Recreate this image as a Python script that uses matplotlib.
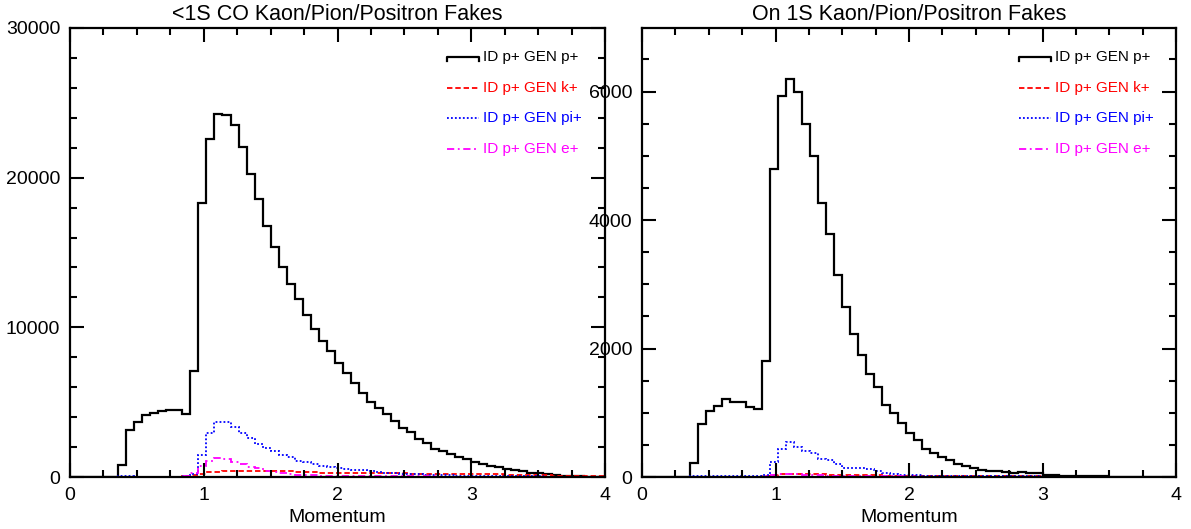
import numpy as np
import matplotlib
matplotlib.use("Agg")
import matplotlib.pyplot as plt

plt.rcParams['font.family'] = ['Liberation Sans', 'DejaVu Sans']

# ---------------- data ----------------
bin_width = 0.06
n_bins = 67
edges = np.arange(n_bins + 1) * bin_width

titles = ["<1S CO Kaon/Pion/Positron Fakes", "On 1S Kaon/Pion/Positron Fakes"]
labels = ["ID p+ GEN p+", "ID p+ GEN k+", "ID p+ GEN pi+", "ID p+ GEN e+"]
xlabel = "Momentum"

left_p = [0, 0, 0, 0, 0, 0, 820, 3140, 3670, 4120, 4300, 4430, 4450, 4500, 4190, 7080,
          18280, 22580, 24250, 24200, 23490, 22060, 20260, 18570, 16750, 15340, 14010,
          12890, 11870, 10810, 9890, 9100, 8400, 7590, 6970, 6260, 5610, 5010, 4590,
          4190, 3720, 3300, 2980, 2560, 2250, 1890, 1760, 1540, 1360, 1200, 1020, 870,
          760, 650, 550, 470, 380, 290, 250, 180, 110, 90, 70, 50, 30, 20, 10]
left_k = [0, 0, 0, 0, 0, 0, 0, 0, 0, 0, 0, 0, 0, 20, 40, 120, 200, 310, 360, 400, 420,
          420, 430, 420, 420, 400, 390, 370, 350, 330, 320, 300, 290, 280, 270, 260, 255,
          250, 245, 240, 240, 235, 230, 225, 220, 215, 210, 205, 200, 200, 200, 190, 180,
          170, 160, 150, 140, 130, 120, 110, 100, 95, 90, 85, 80, 75, 70]
left_pi = [0, 0, 0, 0, 0, 20, 60, 40, 30, 20, 20, 20, 20, 30, 60, 180, 1470, 2960, 3670,
           3650, 3360, 2920, 2580, 2180, 1920, 1760, 1470, 1320, 1090, 980, 850, 730, 680,
           620, 560, 500, 450, 400, 350, 300, 260, 220, 190, 170, 150, 130, 115, 105, 95,
           85, 75, 70, 65, 60, 55, 50, 45, 40, 36, 32, 28, 25, 22, 20, 18, 16, 15]
left_e = [15, 15, 15, 15, 15, 15, 15, 15, 15, 15, 15, 15, 15, 30, 80, 250, 750, 1050,
          1250, 1200, 1000, 900, 680, 600, 430, 350, 260, 200, 160, 130, 110, 95, 85, 80,
          75, 70, 65, 60, 55, 50, 48, 45, 42, 40, 38, 35, 33, 30, 28, 26, 25, 24, 22, 20,
          19, 18, 17, 16, 15, 14, 13, 12, 12, 11, 11, 10, 10]

right_p = [0, 0, 0, 0, 0, 0, 218, 825, 1020, 1100, 1220, 1175, 1165, 1085, 1065, 1800,
           4800, 5930, 6200, 5990, 5490, 4990, 4270, 3780, 3140, 2640, 2230, 1900, 1610,
           1400, 1120, 1000, 840, 680, 575, 435, 373, 311, 258, 207, 165, 140, 114, 98,
           87, 78, 62, 75, 70, 55, 36, 30, 20, 16, 13, 11, 10, 8, 7, 6, 5, 4, 4, 3, 3, 2, 2]
right_k = [0, 0, 0, 0, 0, 0, 2, 3, 3, 3, 3, 3, 3, 4, 5, 10, 30, 45, 50, 45, 45, 40, 40,
           35, 35, 30, 30, 28, 26, 24, 22, 20, 19, 18, 17, 16, 15, 14, 13, 12, 12, 11, 11,
           10, 10, 9, 9, 8, 8, 8, 7, 7, 7, 6, 6, 6, 5, 5, 5, 5, 4, 4, 4, 4, 3, 3, 3]
right_pi = [0, 0, 0, 0, 0, 0, 8, 10, 10, 12, 10, 10, 10, 10, 12, 30, 230, 440, 540, 470,
            400, 370, 280, 260, 200, 145, 140, 140, 130, 90, 60, 40, 35, 30, 25, 22, 20,
            18, 16, 15, 14, 13, 12, 11, 10, 10, 9, 9, 8, 8, 7, 7, 6, 6, 5, 5, 5, 4, 4, 4,
            3, 3, 3, 3, 2, 2, 2]
right_e = [0, 0, 0, 0, 0, 0, 3, 3, 3, 3, 3, 3, 3, 4, 5, 10, 35, 40, 45, 40, 35, 30, 25,
           22, 20, 18, 16, 14, 12, 11, 10, 9, 8, 8, 7, 7, 6, 6, 5, 5, 5, 4, 4, 4, 4, 3, 3,
           3, 3, 3, 2, 2, 2, 2, 2, 2, 2, 1, 1, 1, 1, 1, 1, 1, 1, 1, 1]

panels = [
    dict(series=[left_p, left_k, left_pi, left_e], ylim=30000, yticks=[0, 10000, 20000, 30000],
         yminor=2000),
    dict(series=[right_p, right_k, right_pi, right_e], ylim=6990, yticks=[0, 2000, 4000, 6000],
         yminor=500),
]

colors = ["black", "red", "blue", "magenta"]
styles = ["-", (0, (3.0, 1.6)), (0, (1.0, 1.2)), (0, (4.0, 2.0, 1.0, 2.0))]
widths = [1.6, 1.3, 1.3, 1.3]

# ---------------- figure ----------------
W, H = 1191, 529
fig = plt.figure(figsize=(W / 100, H / 100), dpi=100)
axes_px = [(70, 605), (642, 1176)]
top_px, bot_px = 28, 477

for (x0, x1), panel, title in zip(axes_px, panels, titles):
    ax = fig.add_axes([x0 / W, 1 - bot_px / H, (x1 - x0) / W, (bot_px - top_px) / H])
    for vals, c, ls, lw in zip(panel["series"], colors, styles, widths):
        ax.stairs(vals, edges, color=c, linestyle=ls, linewidth=lw, baseline=None)
    ax.set_xlim(0, 4)
    ax.set_ylim(0, panel["ylim"])
    ax.set_xticks([0, 1, 2, 3, 4])
    ax.set_xticks(np.arange(0, 4.001, 0.25), minor=True)
    ax.set_yticks(panel["yticks"])
    ax.set_yticks(np.arange(0, panel["ylim"] + 1, panel["yminor"]), minor=True)
    ax.tick_params(which="both", direction="in", top=True, right=True, labelsize=14,
                   width=1.5, pad=7)
    ax.tick_params(which="major", length=10)
    ax.tick_params(which="minor", length=5)
    for sp in ax.spines.values():
        sp.set_linewidth(1.6)
    ax.set_title(title, fontsize=15.5, pad=6)
    ax.set_xlabel(xlabel, fontsize=14, labelpad=4)

    # legend drawn in axes coordinates
    ax_w = x1 - x0
    ax_h = bot_px - top_px
    lx0 = 377 / ax_w
    lx1 = 409 / ax_w
    tx = 413 / ax_w
    for k, (lab, c, ls, lw) in enumerate(zip(labels, colors, styles, widths)):
        yy = 1 - (57 + 30.6 * k - top_px) / ax_h
        if k == 0:
            d = 4 / ax_h
            ax.plot([lx0, lx0, lx1, lx1], [yy - d, yy, yy, yy - d], color=c, lw=lw,
                    transform=ax.transAxes, clip_on=False)
        else:
            ax.plot([lx0, lx1], [yy, yy], color=c, ls=ls, lw=lw,
                    transform=ax.transAxes, clip_on=False)
        ax.text(tx, yy, lab, color=c, fontsize=11, va="center", ha="left",
                transform=ax.transAxes)

fig.savefig("out.png", dpi=100)
